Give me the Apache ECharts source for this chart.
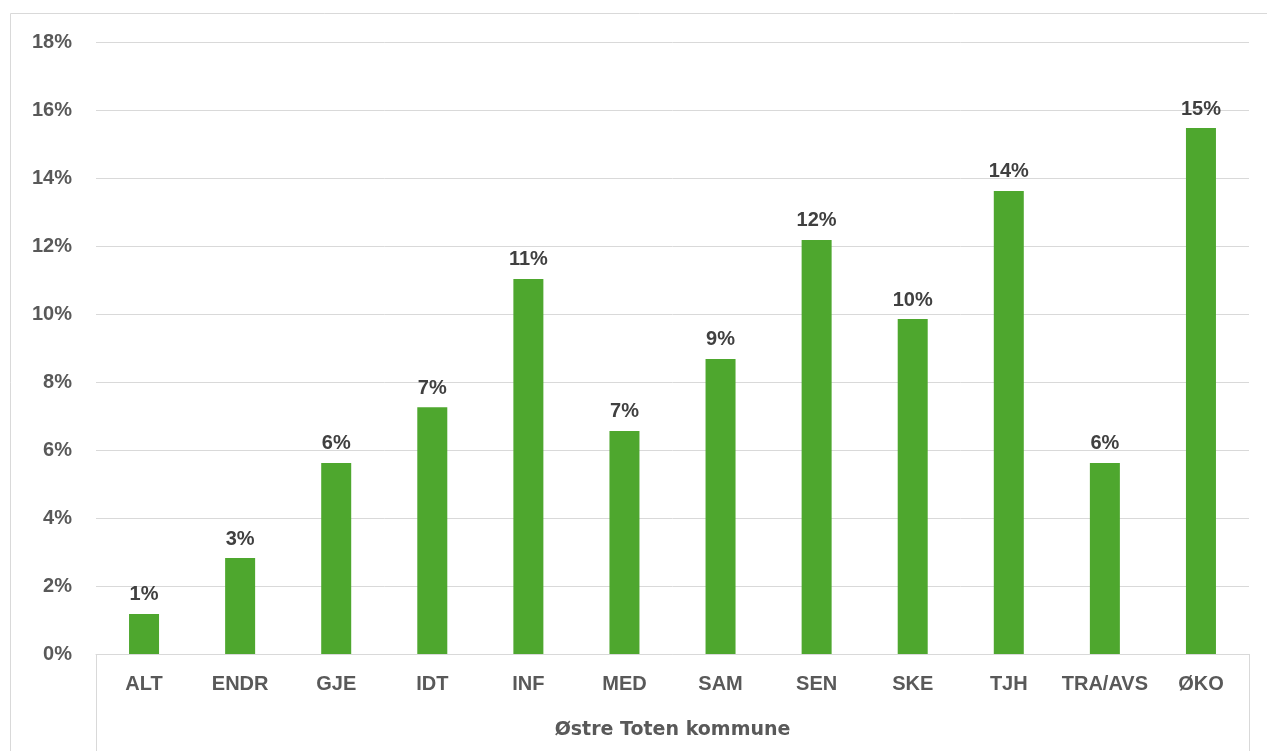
<!DOCTYPE html>
<html>
<head>
<meta charset="utf-8">
<script src="https://cdn.jsdelivr.net/npm/echarts@6/dist/echarts.min.js"></script>
<style>
  html, body { margin: 0; padding: 0; background: #fff; }
  #chart { width: 1267px; height: 751px; }
</style>
</head>
<body>
<div id="chart"></div>
<script>
// categories / values
var categories = ['ALT', 'ENDR', 'GJE', 'IDT', 'INF', 'MED', 'SAM', 'SEN', 'SKE', 'TJH', 'TRA/AVS', 'ØKO'];
var shares = [1.18, 2.82, 5.62, 7.26, 11.03, 6.56, 8.68, 12.18, 9.85, 13.62, 5.62, 15.47];
var groupLabels = ['Østre Toten kommune'];
var yTicks = [0, 2, 4, 6, 8, 10, 12, 14, 16, 18];

var font = 'Liberation Sans, Arial, sans-serif';
var myChart = echarts.init(document.getElementById('chart'));

var option = {
    animation: false,
    textStyle: { fontFamily: font },
    graphic: [{
        type: 'rect',
        shape: { x: 10.5, y: 13.5, width: 1280, height: 760 },
        style: { fill: 'none', stroke: '#d9d9d9', lineWidth: 1 },
        silent: true
    }],
    grid: { left: 96, right: 18, top: 42, bottom: 97 },
    xAxis: [
        {
            type: 'category',
            data: categories,
            axisLine: { show: true, lineStyle: { color: '#d9d9d9', width: 1 } },
            axisTick: { show: false },
            axisLabel: { color: '#595959', fontWeight: 'bold', fontSize: 20, margin: 20, interval: 0 }
        },
        {
            type: 'category',
            data: groupLabels,
            position: 'bottom',
            offset: 0,
            axisLine: { show: false },
            axisTick: { show: true, length: 100, lineStyle: { color: '#d9d9d9', width: 1 } },
            // the group label is drawn a bit wider in the original
            axisLabel: { color: '#595959', fontWeight: 'bold', fontSize: 19, fontFamily: 'DejaVu Sans', margin: 67 }
        }
    ],
    yAxis: {
        type: 'value',
        min: yTicks[0],
        max: yTicks[yTicks.length - 1],
        interval: 2,
        axisLine: { show: false },
        axisTick: { show: false },
        splitLine: { lineStyle: { color: '#d9d9d9', width: 1 } },
        axisLabel: { formatter: '{value}%', color: '#595959', fontWeight: 'bold', fontSize: 20, margin: 24 }
    },
    series: [{
        type: 'bar',
        xAxisIndex: 0,
        data: shares,
        barWidth: 30,
        itemStyle: { color: '#4ea72e' },
        label: {
            show: true,
            position: 'top',
            distance: 9,
            color: '#404040',
            fontWeight: 'bold',
            fontSize: 20,
            formatter: function (p) { return Math.round(p.value) + '%'; }
        }
    }]
};
myChart.setOption(option);
</script>
</body>
</html>
